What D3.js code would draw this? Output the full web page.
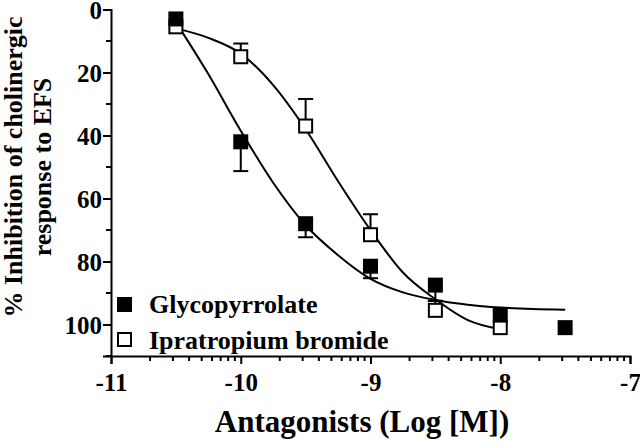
<!DOCTYPE html>
<html>
<head>
<meta charset="utf-8">
<script src="https://cdn.jsdelivr.net/npm/d3@7"></script>
<style>
  body { margin: 0; background: #fff; }
  svg { display: block; }
</style>
</head>
<body>
<svg width="640" height="442"></svg>
<script>
// measured points (log M, % inhibition, error bar end)
var doses = [-10.5, -10, -9.5, -9, -8.5, -8, -7.5]
var glycoMean = [3, 42, 68, 81.5, 87.5, 97, 101]
var glycoErr = [null, 51.3, 72.3, 85.3, 92.5, null, null]
var ipraDoses = [-10.5, -10, -9.5, -9, -8.5, -8]
var ipraMean = [5.5, 15, 37, 71.5, 95.5, 101]
var ipraErr = [null, 10.8, 28.4, 65, 92.5, null]

// fitted curves
var curveX = [-10.5, -10.25, -10, -9.75, -9.5, -9.25, -9, -8.75, -8.5, -8.25, -8, -7.75, -7.5]
var glycoCurve = [4, 20.5, 38.5, 55, 68.5, 78, 85.5, 89.8, 92.2, 93.7, 94.6, 95.1, 95.3]
var ipraCurve = [6, 9, 14, 24, 38, 54.5, 70, 83.5, 92, 98.6, 101.5]

var xTicks = [-11, -10, -9, -8, -7]
var yTicks = [0, 20, 40, 60, 80, 100]
var seriesNames = ["Glycopyrrolate", "Ipratropium bromide"]

var font = "Tinos, 'Nimbus Roman', 'Nimbus Roman No9 L', FreeSerif, 'Noto Serif', 'DejaVu Serif', 'Liberation Serif', serif"

var svg = d3.select("svg")
var x = d3.scaleLinear().domain([-11, -7]).range([111, 630])
var y = d3.scaleLinear().domain([0, 110]).range([9.5, 356])

// minor ticks: log spacing within each decade on x, every 10 on y
var xMinor = []
for (var d = -11; d < -7; d++) {
  for (var k = 2; k <= 9; k++) xMinor.push(d + Math.log10(k))
}
var yMinor = d3.range(10, 111, 20)

var gx = svg.append("g").attr("transform", "translate(0," + y(110) + ")")
gx.call(d3.axisBottom(x).tickValues(xTicks).tickSize(8).tickFormat(function (d) { return d }))
gx.append("g").selectAll("line").data(xMinor).enter().append("line")
  .attr("x1", function (d) { return x(d) }).attr("x2", function (d) { return x(d) })
  .attr("y1", 0).attr("y2", 5).attr("stroke", "#000").attr("stroke-width", 2)
gx.selectAll("text").attr("dy", "0.95em")

var gy = svg.append("g").attr("transform", "translate(" + x(-11) + ",0)")
gy.call(d3.axisLeft(y).tickValues(yTicks).tickSize(8))
gy.append("g").selectAll("line").data(yMinor).enter().append("line")
  .attr("y1", function (d) { return y(d) }).attr("y2", function (d) { return y(d) })
  .attr("x1", 0).attr("x2", -5).attr("stroke", "#000").attr("stroke-width", 2)
gy.selectAll("text").attr("x", -9).attr("dy", "0.36em")

svg.selectAll(".tick text").style("font-size", "25px")
svg.selectAll(".domain").attr("stroke-width", 2)
svg.selectAll(".tick line").attr("stroke-width", 2)

// curves
var line = d3.line()
  .x(function (d) { return x(d[0]) })
  .y(function (d) { return y(d[1]) })
  .curve(d3.curveMonotoneX)

svg.append("path")
  .datum(curveX.map(function (c, i) { return [c, glycoCurve[i]] }))
  .attr("d", line).attr("fill", "none").attr("stroke", "#000").attr("stroke-width", 2)
svg.append("path")
  .datum(ipraCurve.map(function (c, i) { return [curveX[i], c] }))
  .attr("d", line).attr("fill", "none").attr("stroke", "#000").attr("stroke-width", 2)

// error bars
function errorBars(xs, means, errs) {
  var g = svg.append("g")
  xs.forEach(function (xv, i) {
    if (errs[i] == null) return
    g.append("line").attr("x1", x(xv)).attr("x2", x(xv))
      .attr("y1", y(means[i])).attr("y2", y(errs[i]))
      .attr("stroke", "#000").attr("stroke-width", 2)
    g.append("line").attr("x1", x(xv) - 7.5).attr("x2", x(xv) + 7.5)
      .attr("y1", y(errs[i])).attr("y2", y(errs[i]))
      .attr("stroke", "#000").attr("stroke-width", 2)
  })
}
errorBars(ipraDoses, ipraMean, ipraErr)
errorBars(doses, glycoMean, glycoErr)

// markers
var s = 15
svg.append("g").selectAll("rect").data(ipraDoses).enter().append("rect")
  .attr("x", function (d) { return x(d) - s / 2 + 1 })
  .attr("y", function (d, i) { return y(ipraMean[i]) - s / 2 + 1 })
  .attr("width", s - 2).attr("height", s - 2)
  .attr("fill", "#fff").attr("stroke", "#000").attr("stroke-width", 2)
svg.append("g").selectAll("rect").data(doses).enter().append("rect")
  .attr("x", function (d) { return x(d) - s / 2 })
  .attr("y", function (d, i) { return y(glycoMean[i]) - s / 2 })
  .attr("width", s).attr("height", s)
  .attr("fill", "#000")

// legend
var leg = svg.append("g")
leg.append("rect").attr("x", 117).attr("y", 297).attr("width", 15).attr("height", 15).attr("fill", "#000")
leg.append("rect").attr("x", 118).attr("y", 333).attr("width", 13).attr("height", 13)
  .attr("fill", "#fff").attr("stroke", "#000").attr("stroke-width", 2)
leg.append("text").attr("x", 149).attr("y", 313).style("font-size", "26px").text(seriesNames[0])
leg.append("text").attr("x", 149).attr("y", 349).style("font-size", "26px").text(seriesNames[1])

// axis titles
svg.append("text").attr("x", 362).attr("y", 432).attr("text-anchor", "middle")
  .style("font-size", "31px").text("Antagonists (Log [M])")
svg.append("text").attr("transform", "translate(22,167) rotate(-90)").attr("text-anchor", "middle")
  .style("font-size", "26px").text("% Inhibition of cholinergic")
svg.append("text").attr("transform", "translate(51,167) rotate(-90)").attr("text-anchor", "middle")
  .style("font-size", "26px").text("response to EFS")

svg.selectAll("text").attr("font-family", null)
  .style("font-family", font).style("font-weight", "bold").attr("fill", "#000")
</script>
</body>
</html>
